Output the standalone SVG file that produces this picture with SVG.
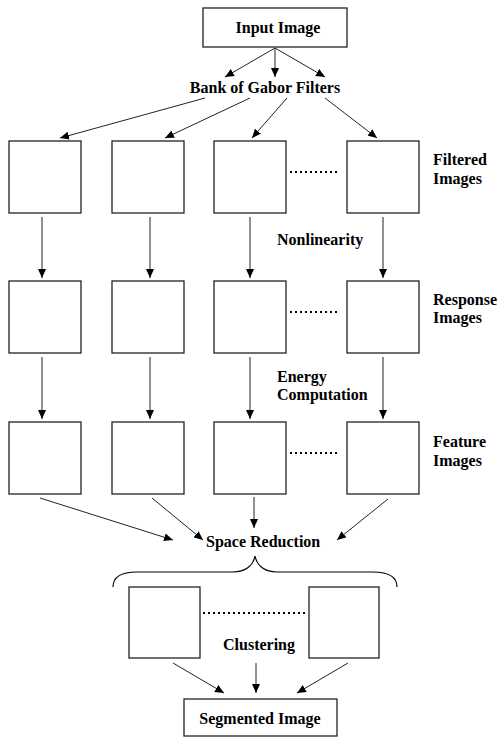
<svg xmlns="http://www.w3.org/2000/svg" width="500" height="737" viewBox="0 0 500 737">
<style>
text{font-family:"Liberation Serif","Times New Roman",serif;font-weight:bold;font-size:16px;fill:#000}
.box{fill:#fff;stroke:#222;stroke-width:1.3}
.ln{stroke:#222;stroke-width:1;fill:none;marker-end:url(#ah)}
.dot{stroke:#000;stroke-width:2;stroke-dasharray:2,3;fill:none}
.mid{text-anchor:middle}
</style>
<defs>
<marker id="ah" markerUnits="userSpaceOnUse" markerWidth="9" markerHeight="8" refX="9" refY="4" orient="auto">
<path d="M0,0 L9,4 L0,8 z" fill="#000"/>
</marker>
</defs>
<rect width="500" height="737" fill="#fff"/>
<g id="input"><rect class="box" x="203" y="8" width="144" height="39"/><text class="mid" x="278" y="33">Input Image</text></g>
<g id="bank"><text class="mid" x="265" y="93">Bank of Gabor Filters</text></g>
<g id="filtered">
<rect class="box" x="9" y="141" width="72" height="72"/>
<rect class="box" x="112" y="141" width="72" height="72"/>
<rect class="box" x="214" y="141" width="72" height="72"/>
<rect class="box" x="347" y="141" width="72" height="72"/>
<line class="dot" x1="290" y1="172" x2="340" y2="172"/>
<text x="433" y="165">Filtered</text><text x="433" y="184">Images</text>
</g>
<g id="nonlinearity"><text x="277" y="245">Nonlinearity</text></g>
<g id="response">
<rect class="box" x="9" y="281" width="72" height="72"/>
<rect class="box" x="112" y="281" width="72" height="72"/>
<rect class="box" x="214" y="281" width="72" height="72"/>
<rect class="box" x="347" y="281" width="72" height="72"/>
<line class="dot" x1="290" y1="312" x2="340" y2="312"/>
<text x="433" y="305">Response</text><text x="433" y="323">Images</text>
</g>
<g id="energy"><text x="277" y="382">Energy</text><text x="277" y="400">Computation</text></g>
<g id="feature">
<rect class="box" x="9" y="422" width="72" height="72"/>
<rect class="box" x="112" y="422" width="72" height="72"/>
<rect class="box" x="214" y="422" width="72" height="72"/>
<rect class="box" x="347" y="422" width="72" height="72"/>
<line class="dot" x1="290" y1="453" x2="340" y2="453"/>
<text x="433" y="447">Feature</text><text x="433" y="466">Images</text>
</g>
<g id="space"><text x="206" y="547">Space Reduction</text>
<path d="M113,587 C113,577 122,572 137,572 L233,572 C245,572 253,566 255,556 C257,566 265,572 277,572 L373,572 C388,572 397,577 397,587" fill="none" stroke="#000" stroke-width="1.2"/>
</g>
<g id="clusters">
<rect class="box" x="129" y="587" width="71" height="71"/>
<rect class="box" x="309" y="587" width="70" height="71"/>
<line class="dot" x1="203" y1="613" x2="305" y2="613"/>
<text x="223" y="650">Clustering</text>
</g>
<g id="segmented"><rect class="box" x="184" y="699" width="153" height="37"/><text class="mid" x="260" y="724">Segmented Image</text></g>
<g id="connectors">
<line class="ln" x1="275" y1="48" x2="225" y2="77"/>
<line class="ln" x1="275" y1="48" x2="275" y2="77"/>
<line class="ln" x1="275" y1="48" x2="325" y2="77"/>
<line class="ln" x1="205" y1="98" x2="60" y2="138"/>
<line class="ln" x1="250" y1="98" x2="165" y2="138"/>
<line class="ln" x1="287" y1="98" x2="252" y2="138"/>
<line class="ln" x1="325" y1="98" x2="377" y2="138"/>
<line class="ln" x1="42" y1="217" x2="42" y2="278"/>
<line class="ln" x1="150" y1="217" x2="150" y2="278"/>
<line class="ln" x1="250" y1="217" x2="250" y2="278"/>
<line class="ln" x1="383" y1="217" x2="383" y2="278"/>
<line class="ln" x1="42" y1="357" x2="42" y2="419"/>
<line class="ln" x1="150" y1="357" x2="150" y2="419"/>
<line class="ln" x1="250" y1="357" x2="250" y2="419"/>
<line class="ln" x1="383" y1="357" x2="383" y2="419"/>
<line class="ln" x1="40" y1="498" x2="173" y2="540"/>
<line class="ln" x1="152" y1="498" x2="203" y2="540"/>
<line class="ln" x1="254" y1="497" x2="254" y2="528"/>
<line class="ln" x1="388" y1="499" x2="337" y2="540"/>
<line class="ln" x1="173" y1="663" x2="224" y2="693"/>
<line class="ln" x1="256" y1="663" x2="256" y2="693"/>
<line class="ln" x1="348" y1="663" x2="297" y2="693"/>
</g>
</svg>
